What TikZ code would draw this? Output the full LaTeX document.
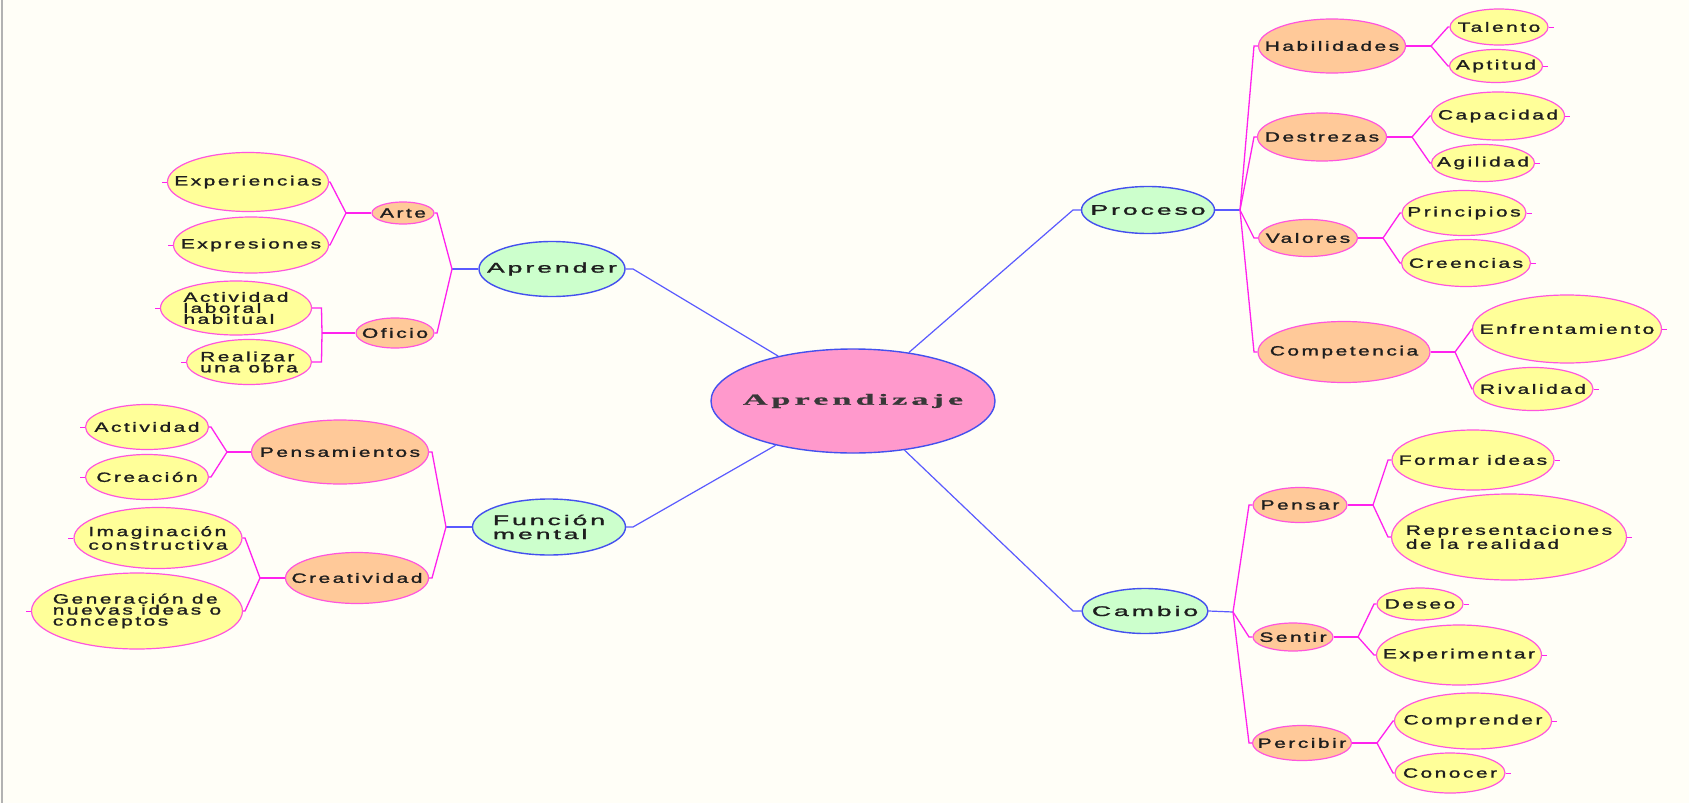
\documentclass[tikz,border=0pt]{standalone}
\usepackage{fontspec}
\usetikzlibrary{shapes.geometric}
\newfontfamily\mapfont[LetterSpace=12,FakeBold=1.2]{Liberation Sans}
\newfontfamily\mapfontB[LetterSpace=11,FakeBold=1.2]{Liberation Sans}
\newfontfamily\rootfont[LetterSpace=12,FakeBold=0.8]{Liberation Serif}
\definecolor{bgc}{HTML}{FFFEF7}
\definecolor{leafF}{HTML}{FFFF99}
\definecolor{midF}{HTML}{FFC999}
\definecolor{topF}{HTML}{CCFFCC}
\definecolor{rootF}{HTML}{FF99CC}
\definecolor{pinkB}{HTML}{FF55DD}
\definecolor{blueB}{HTML}{4450EE}
\definecolor{magL}{HTML}{FF22EE}
\definecolor{blueL}{HTML}{5A5AFF}
\definecolor{txt}{HTML}{1E1E1E}
\tikzset{
  base/.style={ellipse, inner sep=0pt, line width=1.2pt},
  leaf/.style={base, draw=pinkB, fill=leafF},
  mid/.style={base, draw=pinkB, fill=midF},
  topn/.style={base, draw=blueB, fill=topF, line width=1.4pt},
  rootn/.style={base, draw=blueB, fill=rootF, line width=1.4pt},
  wide/.style={transform shape, text=txt, align=left, inner sep=0pt},
  lbl/.style={wide, xscale=1.55, font=\mapfont\fontsize{13.5}{11}\selectfont},
  lblW/.style={wide, xscale=1.55, font=\mapfont\fontsize{13.5}{14}\selectfont},
  lblT/.style={wide, xscale=1.9, font=\mapfontB\fontsize{14}{14}\selectfont},
  lblR/.style={wide, xscale=2.2, font=\rootfont\bfseries\fontsize{15.5}{16}\selectfont, text=black!78},
  mline/.style={draw=magL, line width=1.3pt},
  bline/.style={draw=blueL, line width=1.2pt},
}
% style, label style, name, x, y, width, height, text
\newcommand\mm[8]{%
  \node[#1, minimum width=#6pt, minimum height=#7pt] (#3) at (#4,#5) {};
  \node[#2] (#3-t) at (#3.center) {#8};}
\begin{document}
\begin{tikzpicture}[x=1pt,y=-1pt]
\fill[bgc] (0,0) rectangle (1689,803);
\useasboundingbox (0,0) rectangle (1689,803);
\draw[gray!60, line width=2.5pt] (2,0) -- (2,803);

% ---------- junction coordinates ----------
\coordinate (jApr) at (452,269); \coordinate (kApr) at (437,269);
\coordinate (jArte) at (346,213); \coordinate (kArte) at (330,213);
\coordinate (jOfi) at (322,333); \coordinate (kOfi) at (321.5,333);
\coordinate (jFun) at (446,527); \coordinate (kFun) at (432,527);
\coordinate (jPen) at (227,452); \coordinate (kPen) at (211,452);
\coordinate (jCre) at (260,578); \coordinate (kCre) at (245,578);
\coordinate (jPro) at (1240,210); \coordinate (kPro) at (1254,210);
\coordinate (jHab) at (1431,46); \coordinate (kHab) at (1448,46);
\coordinate (jDes) at (1412,137); \coordinate (kDes) at (1430,137);
\coordinate (jVal) at (1383,238); \coordinate (kVal) at (1400,238);
\coordinate (jCom) at (1455,352); \coordinate (kCom) at (1472,352);
\coordinate (jCam) at (1233,612); \coordinate (kCam) at (1249,612);
\coordinate (jPns) at (1373,505); \coordinate (kPns) at (1388,505);
\coordinate (jSen) at (1358,637); \coordinate (kSen) at (1374,637);
\coordinate (jPer) at (1377,743); \coordinate (kPer) at (1393,743);
\coordinate (sApr) at (633,269);
\coordinate (sFun) at (633,527);
\coordinate (sPro) at (1073,210);
\coordinate (sCam) at (1073,611);

% ---------- nodes ----------
\mm{rootn}{lblR}{apz}{853}{401}{284}{104}{Aprendizaje}

\mm{topn}{lblT}{apr}{552}{269}{146}{55}{Aprender}
\mm{topn}{lblT}{fun}{549}{527}{153}{56}{Función\\mental}
\mm{topn}{lblT}{pro}{1148}{210}{133}{47}{Proceso}
\mm{topn}{lblT}{cam}{1145}{611}{126}{45}{Cambio}

\mm{mid}{lbl}{arte}{403}{213}{62}{22}{Arte}
\mm{mid}{lbl}{ofi}{395}{333}{78}{30}{Oficio}
\mm{mid}{lbl}{pen}{340}{452}{177}{64}{Pensamientos}
\mm{mid}{lbl}{cre}{357}{578}{143}{51}{Creatividad}
\mm{mid}{lbl}{hab}{1332}{46}{147}{54}{Habilidades}
\mm{mid}{lbl}{des}{1322}{137}{129}{48}{Destrezas}
\mm{mid}{lbl}{val}{1308}{238}{99}{37}{Valores}
\mm{mid}{lbl}{com}{1344}{352}{172}{61}{Competencia}
\mm{mid}{lbl}{pns}{1300}{505}{94}{35}{Pensar}
\mm{mid}{lbl}{sen}{1293}{637}{80}{28}{Sentir}
\mm{mid}{lbl}{per}{1302}{743}{99}{35}{Percibir}

\mm{leaf}{lbl}{exp}{248}{182}{161}{59}{Experiencias}
\mm{leaf}{lbl}{epr}{251}{245}{155}{56}{Expresiones}
\mm{leaf}{lbl}{act}{236}{308}{151}{54}{Actividad\\laboral\\habitual}
\mm{leaf}{lbl}{rea}{249}{362}{125}{45}{Realizar\\una obra}
\mm{leaf}{lbl}{acv}{147}{427}{123}{45}{Actividad}
\mm{leaf}{lbl}{crc}{147}{477}{123}{45}{Creación}
\mm{leaf}{lbl}{ima}{158}{538}{168}{61}{Imaginación\\constructiva}
\mm{leaf}{lbl}{gen}{137}{611}{211}{76}{Generación de\\nuevas ideas o\\conceptos}
\mm{leaf}{lbl}{tal}{1499}{27}{98}{36}{Talento}
\mm{leaf}{lbl}{apt}{1496}{66}{93}{33}{Aptitud}
\mm{leaf}{lbl}{cap}{1498}{116}{133}{48}{Capacidad}
\mm{leaf}{lbl}{agi}{1483}{163}{103}{37}{Agilidad}
\mm{leaf}{lbl}{pri}{1464}{213}{124}{45}{Principios}
\mm{leaf}{lbl}{crn}{1466}{263}{129}{47}{Creencias}
\mm{leaf}{lbl}{enf}{1567}{329}{189}{68}{Enfrentamiento}
\mm{leaf}{lbl}{riv}{1533}{389}{120}{43}{Rivalidad}
\mm{leaf}{lbl}{frm}{1473}{460}{162}{60}{Formar ideas}
\mm{leaf}{lblW}{rep}{1509}{537}{235}{86}{Representaciones\\de la realidad}
\mm{leaf}{lbl}{dso}{1420}{604}{86}{32}{Deseo}
\mm{leaf}{lbl}{exm}{1459}{655}{165}{60}{Experimentar}
\mm{leaf}{lbl}{cmp}{1473}{721}{157}{56}{Comprender}
\mm{leaf}{lbl}{cno}{1450}{773}{110}{40}{Conocer}

% ---------- central connectors ----------
\draw[bline] (apz) -- (sApr) -- (apr.east);
\draw[bline] (apz) -- (sFun) -- (fun.east);
\draw[bline] (apz) -- (sPro) -- (pro.west);
\draw[bline] (apz) -- (sCam) -- (cam.west);

% ---------- left branches ----------
\draw[bline] (apr.west) -- (jApr);
\foreach \c in {arte,ofi} \draw[mline] (jApr) -- (kApr |- \c) -- (\c.east);
\draw[mline] (arte.west) -- (jArte);
\foreach \c in {exp,epr} \draw[mline] (jArte) -- (kArte |- \c) -- (\c.east);
\draw[mline] (ofi.west) -- (jOfi);
\foreach \c in {act,rea} \draw[mline] (jOfi) -- (kOfi |- \c) -- (\c.east);
\draw[bline] (fun.west) -- (jFun);
\foreach \c in {pen,cre} \draw[mline] (jFun) -- (kFun |- \c) -- (\c.east);
\draw[mline] (pen.west) -- (jPen);
\foreach \c in {acv,crc} \draw[mline] (jPen) -- (kPen |- \c) -- (\c.east);
\draw[mline] (cre.west) -- (jCre);
\foreach \c in {ima,gen} \draw[mline] (jCre) -- (kCre |- \c) -- (\c.east);

% ---------- right branches ----------
\draw[bline] (pro.east) -- (jPro);
\foreach \c in {hab,des,val,com} \draw[mline] (jPro) -- (kPro |- \c) -- (\c.west);
\draw[mline] (hab.east) -- (jHab);
\foreach \c in {tal,apt} \draw[mline] (jHab) -- (kHab |- \c) -- (\c.west);
\draw[mline] (des.east) -- (jDes);
\foreach \c in {cap,agi} \draw[mline] (jDes) -- (kDes |- \c) -- (\c.west);
\draw[mline] (val.east) -- (jVal);
\foreach \c in {pri,crn} \draw[mline] (jVal) -- (kVal |- \c) -- (\c.west);
\draw[mline] (com.east) -- (jCom);
\foreach \c in {enf,riv} \draw[mline] (jCom) -- (kCom |- \c) -- (\c.west);
\draw[bline] (cam.east) -- (jCam);
\foreach \c in {pns,sen,per} \draw[mline] (jCam) -- (kCam |- \c) -- (\c.west);
\draw[mline] (pns.east) -- (jPns);
\foreach \c in {frm,rep} \draw[mline] (jPns) -- (kPns |- \c) -- (\c.west);
\draw[mline] (sen.east) -- (jSen);
\foreach \c in {dso,exm} \draw[mline] (jSen) -- (kSen |- \c) -- (\c.west);
\draw[mline] (per.east) -- (jPer);
\foreach \c in {cmp,cno} \draw[mline] (jPer) -- (kPer |- \c) -- (\c.west);

% ---------- leaf end ticks ----------
\foreach \c in {exp,epr,act,rea,acv,crc,ima,gen}
  \draw[mline, line width=1pt] (\c.west) -- ++(-5,0);
\foreach \c in {tal,apt,cap,agi,pri,crn,enf,riv,frm,rep,dso,exm,cmp,cno}
  \draw[mline, line width=1pt] (\c.east) -- ++(5,0);
\end{tikzpicture}
\end{document}
